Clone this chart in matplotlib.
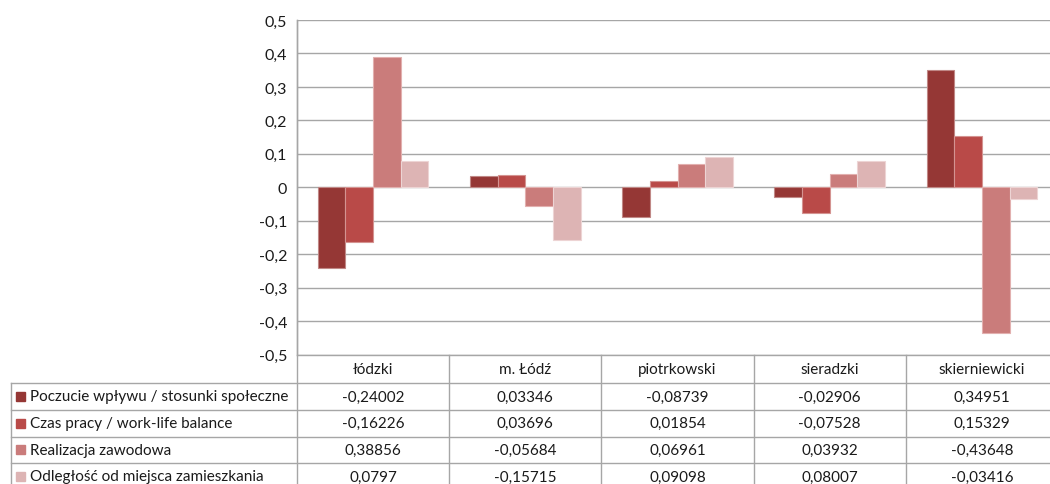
import matplotlib
matplotlib.use("Agg")
import matplotlib.pyplot as plt
from matplotlib.lines import Line2D
from matplotlib.patches import Rectangle
import numpy as np

plt.rcParams['font.family'] = ['Lato', 'DejaVu Sans']

categories = ["łódzki", "m. Łódź", "piotrkowski", "sieradzki", "skierniewicki"]
series_names = [
    "Poczucie wpływu / stosunki społeczne",
    "Czas pracy / work-life balance",
    "Realizacja zawodowa",
    "Odległość od miejsca zamieszkania",
]
poczucie = [-0.24002, 0.03346, -0.08739, -0.02906, 0.34951]
czas_pracy = [-0.16226, 0.03696, 0.01854, -0.07528, 0.15329]
realizacja = [0.38856, -0.05684, 0.06961, 0.03932, -0.43648]
odleglosc = [0.0797, -0.15715, 0.09098, 0.08007, -0.03416]
table_text = [
    ["-0,24002", "0,03346", "-0,08739", "-0,02906", "0,34951"],
    ["-0,16226", "0,03696", "0,01854", "-0,07528", "0,15329"],
    ["0,38856", "-0,05684", "0,06961", "0,03932", "-0,43648"],
    ["0,0797", "-0,15715", "0,09098", "0,08007", "-0,03416"],
]
yticks = [-0.5, -0.4, -0.3, -0.2, -0.1, 0, 0.1, 0.2, 0.3, 0.4, 0.5]
ytick_labels = ["-0,5", "-0,4", "-0,3", "-0,2", "-0,1", "0", "0,1", "0,2", "0,3", "0,4", "0,5"]

series = [poczucie, czas_pracy, realizacja, odleglosc]
colors = ["#953735", "#B94A48", "#CA7C7B", "#DDB4B4"]
edges = ["#C08886", "#D49391", "#E2B0AF", "#EDD4D4"]

W, H = 1050, 485
fig = plt.figure(figsize=(W / 100, H / 100), dpi=100)

def fx(x):
    return x / W

def fy(y):
    return 1 - y / H

ax_left, ax_right, ax_top, ax_bottom = 297, 1058, 21, 355.7
ax = fig.add_axes([fx(ax_left), fy(ax_bottom), (ax_right - ax_left) / W, (ax_bottom - ax_top) / H])

grid_c = "#A6A6A6"
txt_c = "#1A1A1A"
x = np.arange(len(categories))
bw = 1 / 5.5
for i, vals in enumerate(series):
    ax.bar(x + (i - 1.5) * bw, vals, width=bw, color=colors[i], edgecolor=edges[i],
           linewidth=0.8, zorder=3)

ax.set_xlim(-0.5, len(categories) - 0.5)
ax.set_ylim(-0.5, 0.5)
ax.set_yticks(yticks)
ax.set_yticklabels(ytick_labels, fontsize=11.5, color=txt_c)
ax.tick_params(axis="y", length=0, pad=7)
ax.set_xticks([])
ax.yaxis.grid(True, color=grid_c, linewidth=1.0, zorder=0)
ax.set_axisbelow(True)
for s in ["top", "right", "bottom"]:
    ax.spines[s].set_visible(False)
ax.spines["left"].set_color(grid_c)
ax.spines["left"].set_linewidth(1.0)

# data table below the plot area
def line(x0, y0, x1, y1):
    fig.add_artist(Line2D([fx(x0), fx(x1)], [fy(y0), fy(y1)], color=grid_c, linewidth=1.0))

col_w = (ax_right - ax_left) / len(categories)
row_edges = [355.7, 384, 411, 437.5, 464, 491]
table_left = 11
for k in range(len(categories) + 1):
    xv = ax_left + k * col_w
    line(xv, ax_top if k == 0 else row_edges[0], xv, row_edges[-1])
line(table_left, row_edges[1], table_left, row_edges[-1])
line(ax_left, row_edges[0], ax_right, row_edges[0])
for r in row_edges[1:]:
    line(table_left, r, ax_right, r)

fs = 11
for j, cat in enumerate(categories):
    cx = ax_left + (j + 0.5) * col_w
    fig.text(fx(cx), fy((row_edges[0] + row_edges[1]) / 2), cat, ha="center", va="center",
             fontsize=fs, color=txt_c)
for i, name in enumerate(series_names):
    cy = (row_edges[i + 1] + row_edges[i + 2]) / 2
    fig.add_artist(Rectangle((fx(16), fy(cy + 4.5)), 9 / W, 9 / H, color=colors[i],
                             transform=fig.transFigure))
    fig.text(fx(30), fy(cy), name, ha="left", va="center", fontsize=fs, color=txt_c)
    for j in range(len(categories)):
        cx = ax_left + (j + 0.5) * col_w
        fig.text(fx(cx), fy(cy), table_text[i][j], ha="center", va="center",
                 fontsize=fs, color=txt_c)

fig.savefig("out.png", dpi=100)
